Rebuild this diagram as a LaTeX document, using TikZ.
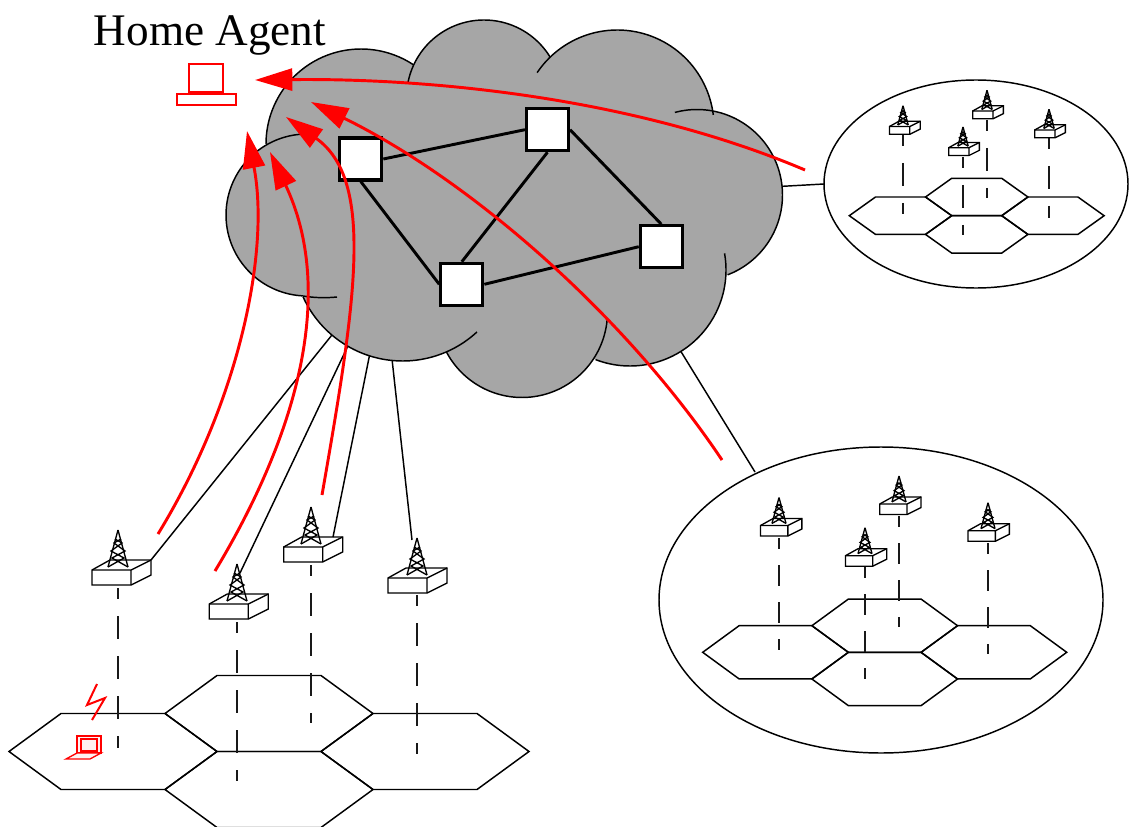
\documentclass[tikz,border=0pt]{standalone}
\usepackage{xcolor}
\usepackage{fontspec}
\setmainfont{Liberation Serif}
\usetikzlibrary{arrows.meta, calc}
\definecolor{cloudgray}{RGB}{166,166,166}

\newcommand{\cloudfill}[3]{\fill[cloudgray] plot[domain=0:360, samples=72, smooth] ({#1+#3*cos(\x)},{#2-#3*sin(\x)}) -- cycle;}
\newcommand{\cloudarc}[5]{\draw[outline] plot[domain=#4:#5, samples=40, smooth] ({#1+#3*cos(\x)},{#2-#3*sin(\x)});}

\tikzset{
    pics/basestation/.default=0,
    pics/basestation/.style={code={
        \begin{scope}[shift={(#1,0)}]
        \draw[boxline, fill=white] (-26,0) -- (-8,-10) -- (33,-10) -- (33,5) -- (13,15) -- (-26,15) -- cycle;
        \draw[boxline] (-26,0) -- (13,0) -- (33,-10) (13,0) -- (13,15);
        \coordinate (-corner) at (33,-10);
        \end{scope}
        \draw[boxline] (0,-40) -- (-10,-3) (0,-40) -- (10,-3);
        \draw[boxline] (-10,-3) -- (6,-12) -- (-7,-19) -- (4,-27) -- (-3,-31) (10,-3) -- (-6,-12) -- (7,-19) -- (-4,-27) -- (3,-31);
    }},
    pics/hexcell/.style args={#1/#2/#3}{code={
        \draw[outline] (-#1,0) -- (-#1+#3,-#2) -- (#1-#3,-#2) -- (#1,0) -- (#1-#3,#2) -- (-#1+#3,#2) -- cycle;
    }}
}

\begin{document}
\begin{tikzpicture}[
    x=0.75pt, y=-0.75pt,
    outline/.style={draw=black, line width=1.1pt},
    boxline/.style={draw=black, line width=1pt},
    link/.style={draw=black, line width=1.1pt},
    backbone/.style={draw=black, line width=2.2pt},
    router/.style={draw=black, line width=2.4pt, fill=white, minimum size=31.4pt, inner sep=0pt},
    beam/.style={draw=black!90, line width=1.2pt, dash pattern=on 17.25pt off 12.75pt, dash phase=9pt},
    beamsmall/.style={draw=black!90, line width=1.2pt, dash pattern=on 15.75pt off 12pt, dash phase=7.5pt},
    flow/.style={draw=red, line width=2.2pt, -{Triangle[length=28pt,width=16.5pt]}},
    agent/.style={draw=red, line width=1pt}
]
    \useasboundingbox (0,0) rectangle (1130,827);

    % access areas
    \draw[outline] (881,600) ellipse[x radius=222, y radius=153];
    \draw[outline] (976,184) ellipse[x radius=152, y radius=104];

    \coordinate (areaA) at (824,184);
    \coordinate (areaB) at (755,472);
    \coordinate (cloudA) at (770,187);
    \coordinate (cloudB) at (672,337);
    \coordinate (cloudC) at (340,325);
    \coordinate (cloudD) at (355,331);
    \coordinate (cloudE) at (373,338);
    \coordinate (cloudF) at (390,341);
    \coordinate (linkB) at (240,573);
    \coordinate (linkC) at (333,537);
    \coordinate (linkD) at (412,540);

    % hexagons
    \foreach \cx/\cy in {113/751.5, 269/713.5, 269/789.5, 425/751.5}
        \pic at (\cx,\cy) {hexcell={104/38/52}};
    \foreach \cx/\cy in {775.5/652.3, 884.7/625.7, 884.7/679, 993.9/652.3}
        \pic at (\cx,\cy) {hexcell={72.8/26.6/36.4}};
    \foreach \cx/\cy in {900.5/215.7, 976.7/197, 976.7/234.4, 1052.9/215.7}
        \pic at (\cx,\cy) {hexcell={51.2/18.7/26.2}};

    % base stations
    \foreach \name/\px/\py/\off/\starty/\endy in {towerA/118/570/0/588/748, towerB/237/604/-1.7/622/781, towerC/311/547/-1.3/565/723, towerD/417/578/-3/595/754} {
        \coordinate (\name-start) at (\px,\starty);
        \coordinate (\name-end) at (\px,\endy);
        \draw[beam] (\name-start) -- (\name-end);
        \pic (\name) at (\px,\py) {basestation=\off};
    }
    \foreach \name/\px/\py/\off/\starty/\endy in {towerE/779/525.5/-0.4/538/650, towerF/899/504/-1.5/516/627, towerG/865/555.7/-1.9/567/679, towerH/988/530.7/-2.5/543/654} {
        \coordinate (\name-start) at (\px,\starty);
        \coordinate (\name-end) at (\px,\endy);
        \draw[beamsmall] (\name-start) -- (\name-end);
        \pic[scale=0.7] (\name) at (\px,\py) {basestation=\off};
    }
    \foreach \name/\px/\py/\off/\starty/\endy in {towerI/903/126.5/0/135/214, towerJ/987/111/-1.5/120/198, towerK/963/147.7/-1.5/157/235, towerL/1049/130/-1.5/138/218} {
        \coordinate (\name-start) at (\px,\starty);
        \coordinate (\name-end) at (\px,\endy);
        \draw[beam] (\name-start) -- (\name-end);
        \pic[scale=0.52] (\name) at (\px,\py) {basestation=\off};
    }

    % links to the cloud
    \draw[link] (areaA) -- (cloudA);
    \draw[link] (areaB) -- (cloudB);
    \draw[link] (towerA-corner) -- (cloudC);
    \draw[link] (linkB) -- (cloudD);
    \draw[link] (linkC) -- (cloudE);
    \draw[link] (linkD) -- (cloudF);

    % cloud
    \fill[cloudgray] (480,210) ellipse[x radius=240, y radius=120];
    \cloudfill{307}{215}{81}
    \cloudfill{361}{144}{95}
    \cloudfill{484}{97.5}{77.5}
    \cloudfill{617.3}{126.7}{96.7}
    \cloudfill{697}{195}{85.5}
    \cloudfill{630}{270}{96}
    \cloudfill{522}{312}{85.5}
    \cloudfill{402.7}{251.5}{109.5}
    \cloudarc{307}{215}{81}{95}{267}
    \draw[outline] (303,296) .. controls (315,298) and (327,298) .. (337,297);
    \cloudarc{361}{144}{95}{56.6}{180}
    \cloudarc{484}{97.5}{77.5}{31.5}{168.5}
    \cloudarc{617.3}{126.7}{96.7}{7}{146}
    \cloudarc{697}{195}{85.5}{-69}{105}
    \cloudarc{630}{270}{96}{-111}{10}
    \cloudarc{522}{312}{85.5}{-152}{-4}
    \cloudarc{402.7}{251.5}{109.5}{204.5}{312.7}

    % routers
    \node[router] (routerA) at (360.8,159) {};
    \node[router] (routerB) at (547.5,129.7) {};
    \node[router] (routerC) at (661.3,246.7) {};
    \node[router] (routerD) at (461.8,284.3) {};
    \draw[backbone] (routerA.east) -- (routerB.west);
    \draw[backbone] (routerA.south) -- (routerD.west);
    \draw[backbone] (routerB.south) -- (routerD.north);
    \draw[backbone] (routerB.east) -- (routerC.north);
    \draw[backbone] (routerD.east) -- (routerC.west);

    % home agent
    \node[inner sep=0pt, font=\fontsize{33.9}{40}\selectfont] (homeagent) at (210,35) {Home Agent};
    \draw[agent] (189,64) rectangle (223,92);
    \draw[agent] (177,94) rectangle (236,105);

    % mobile node
    \draw[agent, fill=red!5] (77,736) rectangle (101,753);
    \draw[agent] (81,739) rectangle (97,751);
    \draw[agent, fill=red!5] (77,753) -- (101,753) -- (90,759) -- (66,759) -- cycle;
    \draw[agent, line width=1.5pt] (97,684) -- (87,705) -- (105,698) -- (92,720);

    % registration paths
    \coordinate (tipA) at (255,80);
    \coordinate (tipB) at (311,102);
    \coordinate (tipC) at (286,117);
    \coordinate (tipD) at (270,152);
    \coordinate (tipE) at (247,131);
    \coordinate (flowA) at (805,170);
    \coordinate (flowB) at (722,460);
    \coordinate (flowC) at (322,495);
    \coordinate (flowD) at (215,571);
    \coordinate (flowE) at (158,534);
    \draw[flow] (flowA) .. controls (640,100) and (440,78) .. (tipA);
    \draw[flow] (flowB) .. controls (625,315) and (470,180) .. (tipB);
    \draw[flow] (flowC) .. controls (356,300) and (375,180) .. (tipC);
    \draw[flow] (flowD) .. controls (300,430) and (335,290) .. (tipD);
    \draw[flow] (flowE) .. controls (240,400) and (270,250) .. (tipE);
\end{tikzpicture}
\end{document}
